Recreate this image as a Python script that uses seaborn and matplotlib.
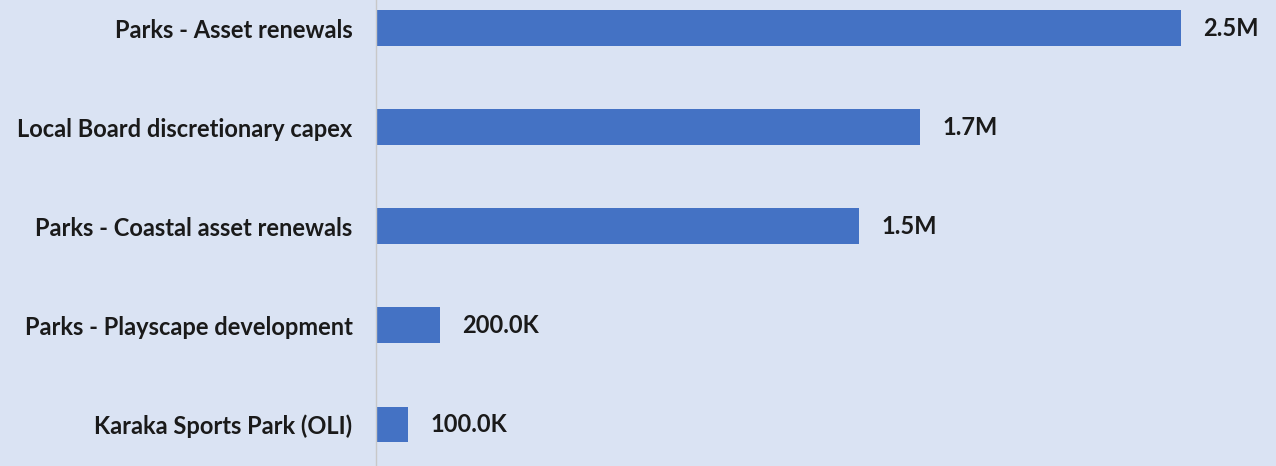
import matplotlib
matplotlib.use('Agg')
import matplotlib.pyplot as plt
import seaborn as sns
import pandas as pd

categories = ['Parks - Asset renewals', 'Local Board discretionary capex',
              'Parks - Coastal asset renewals', 'Parks - Playscape development',
              'Karaka Sports Park (OLI)']
amounts = [2500000, 1690000, 1500000, 200000, 100000]
value_labels = ['2.5M', '1.7M', '1.5M', '200.0K', '100.0K']

bg = '#dae3f3'
bar_color = '#4472c4'

sns.set_style('white')
plt.rcParams['font.family'] = ['Lato', 'DejaVu Sans']

df = pd.DataFrame({'category': categories, 'amount': amounts})

fig = plt.figure(figsize=(12.76, 4.66), dpi=100)
fig.set_facecolor(bg)
ax = fig.add_axes([0.2947, 0.0, 0.7053, 1.0])
ax.set_facecolor(bg)

sns.barplot(data=df, x='amount', y='category', color=bar_color, width=0.36,
            saturation=1, linewidth=0, ax=ax)

for i, (v, lab) in enumerate(zip(amounts, value_labels)):
    ax.annotate(lab, xy=(v, i), xytext=(22, 0), textcoords='offset pixels',
                va='center', ha='left', fontsize=17, fontweight='bold', color='#1a1a1a')

ax.set_xlim(0, 2.795e6)
ax.set_ylim(4.42, -0.283)
ax.set_xlabel('')
ax.set_ylabel('')
ax.set_xticks([])
for s in ['top', 'right', 'bottom']:
    ax.spines[s].set_visible(False)
ax.spines['left'].set_color('#c8c8c8')
ax.spines['left'].set_linewidth(1)
ax.tick_params(axis='y', length=0, pad=17)
for t in ax.get_yticklabels():
    t.set_fontsize(17)
    t.set_fontweight('bold')
    t.set_color('#1a1a1a')

fig.savefig('out.png', dpi=100, facecolor=bg)
